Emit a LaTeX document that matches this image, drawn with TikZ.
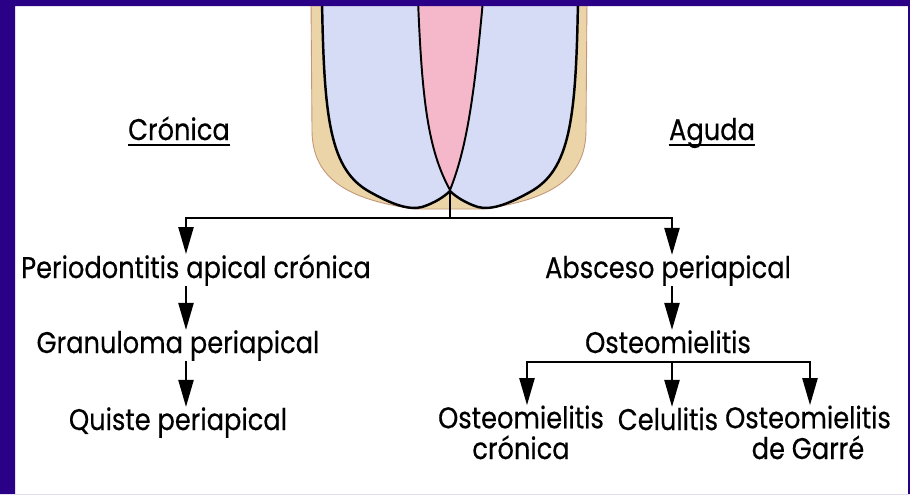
\documentclass[tikz,border=0pt]{standalone}
\usepackage{fontspec}
\setmainfont{Poppins}[FakeStretch=0.86, FakeBold=0.4]
\usetikzlibrary{arrows.meta}

\definecolor{frameblue}{RGB}{42,0,134}
\definecolor{dentin}{RGB}{214,220,245}
\definecolor{pulp}{RGB}{245,184,202}
\definecolor{cementum}{RGB}{234,212,168}
\definecolor{cementumline}{RGB}{196,150,120}

\begin{document}
\begin{tikzpicture}[x=0.02cm, y=-0.02cm]
	\tikzstyle{label}=[inner sep=0pt, anchor=base, align=center, font=\fontsize{17}{17.5}\selectfont]
	\tikzstyle{branch}=[line width=1.3pt, draw=black]
	\tikzstyle{arrow}=[branch, -{Triangle[length=0.54cm, width=0.3cm]}]
	\tikzstyle{outline}=[line width=1.4pt, draw=black]

	\useasboundingbox (0,0) rectangle (910,494);
	\fill[white] (0,0) rectangle (910,494);

	% Draw the tooth: cementum, dentin and pulp
	\filldraw[fill=cementum, draw=cementumline, line width=0.5pt]
		(311,0) -- (312,130) .. controls (312,180) and (350,200) .. (415,209)
		-- (483,209) .. controls (548,200) and (586,180) .. (586,130) -- (587,0) -- cycle;
	\fill[dentin] (322,0) .. controls (324,120) and (330,170) .. (370,192)
		.. controls (395,206) and (410,210) .. (422,207)
		.. controls (435,203) and (445,196) .. (450,191)
		.. controls (455,196) and (465,203) .. (478,207)
		.. controls (490,210) and (505,206) .. (530,192)
		.. controls (570,170) and (576,120) .. (578,0) -- cycle;
	\fill[pulp] (418,0) .. controls (422,100) and (428,150) .. (450,190)
		.. controls (466,150) and (474,100) .. (483,0) -- cycle;
	\draw[outline] (322,0) .. controls (324,120) and (330,170) .. (370,192)
		.. controls (395,206) and (410,210) .. (422,207)
		.. controls (435,203) and (445,196) .. (450,191)
		.. controls (455,196) and (465,203) .. (478,207)
		.. controls (490,210) and (505,206) .. (530,192)
		.. controls (570,170) and (576,120) .. (578,0);
	\draw[outline, line width=1.1pt] (418,0) .. controls (422,100) and (428,150) .. (450,190)
		.. controls (466,150) and (474,100) .. (483,0);

	% Branch points
	\coordinate (apex) at (450,192);
	\coordinate (split) at (450,218);
	\coordinate (leftcol) at (186,218);
	\coordinate (rightcol) at (672,218);
	\coordinate (fork) at (672,362);

	% Headings of both branches
	\node[label] (cron) at (179,140) {Crónica};
	\node[label] (aguda) at (712,140) {Aguda};
	\draw[branch] ([yshift=-3pt]cron.base west) -- ([yshift=-3pt]cron.base east);
	\draw[branch] ([yshift=-3pt]aguda.base west) -- ([yshift=-3pt]aguda.base east);

	% Chronic branch
	\node[label] (perio) at (196,278) {Periodontitis apical crónica};
	\node[label] (granu) at (178,353) {Granuloma periapical};
	\node[label] (quiste) at (178,430) {Quiste periapical};

	% Acute branch
	\node[label] (absceso) at (668,278) {Absceso periapical};
	\node[label] (osteo) at (668,353) {Osteomielitis};
	\node[label] (osteocr) at (521,459) {Osteomielitis\\crónica};
	\node[label] (celul) at (668,430) {Celulitis};
	\node[label] (garre) at (808,459) {Osteomielitis\\de Garré};

	% Connect the apex with both branches
	\draw[branch] (apex) -- (split);
	\draw[arrow] (split) -| (perio.north -| leftcol);
	\draw[arrow] (split) -| (absceso.north -| rightcol);

	% Connect the chronic stages
	\draw[arrow] (perio.south -| leftcol) -- (granu.north -| leftcol);
	\draw[arrow] (granu.south -| leftcol) -- (quiste.north -| leftcol);

	% Connect the acute stages
	\draw[arrow] (absceso.south -| rightcol) -- (osteo.north -| rightcol);
	\foreach \dest/\x in {osteocr/527, celul/672, garre/810}
		\draw[arrow] (fork) -| (\dest.north -| \x,0);

	% Draw the frame
	\fill[frameblue, even odd rule] (0,0) rectangle (910,494) (15,6) rectangle (908,494);
\end{tikzpicture}
\end{document}
